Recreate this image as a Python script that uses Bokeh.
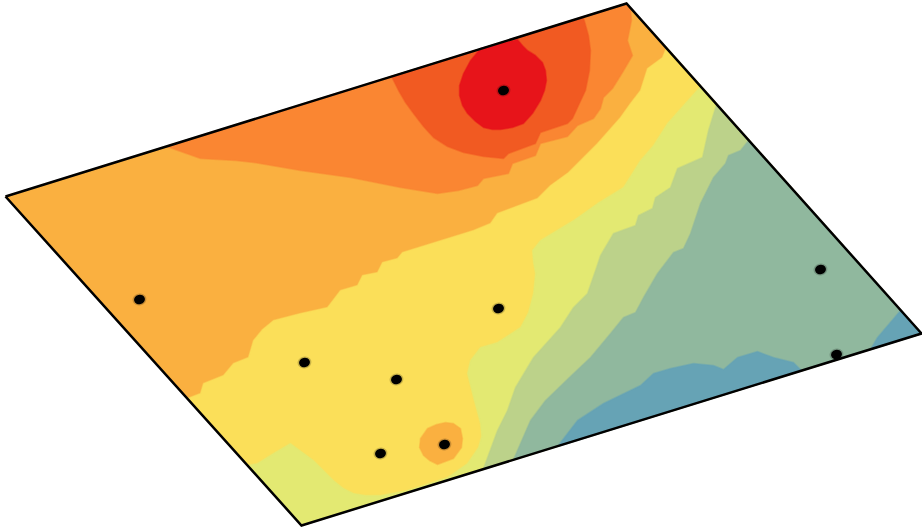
from bokeh.plotting import figure
from bokeh.embed import file_html
from bokeh.resources import INLINE

# Map outline (corners of the tilted sheet)
frame_x = [5, 626, 921, 301, 5]
frame_y = [196, 3, 333, 525, 196]

# Filled contour bands, painted from the back to the front
band_colors = ["#FAB040", "#FA8632", "#F15A22", "#E7141A", "#FBDF59", "#E3E972",
               "#BCD28A", "#90B89E", "#66A3B5", "#66A3B5", "#FAB040"]

base_x = [5, 626, 921, 301]
base_y = [196, 3, 333, 525]

orange_x = [166, 183, 200, 217, 235, 253, 300, 350, 400, 437, 458, 477, 483, 508, 512, 535, 540, 567, 577, 593, 600, 603, 612, 622, 632, 627, 631, 630, 626]
orange_y = [146, 152, 158, 159, 160, 162, 170, 177, 187, 193, 190, 185, 178, 173, 163, 155, 143, 136, 125, 118, 108, 97, 88, 72, 55, 40, 20, 8, 3]

dark_x = [391, 398, 405, 413, 423, 433, 447, 463, 483, 503, 508, 535, 540, 567, 572, 578, 585, 589, 590, 588, 583]
dark_y = [76, 90, 102, 113, 126, 137, 146, 152, 156, 158, 153, 143, 132, 123, 118, 105, 90, 70, 50, 35, 17]

red_x = [480, 470, 463, 459, 459, 462, 467, 475, 483, 492, 500, 512, 523, 532, 540, 544, 546, 545, 542, 535, 527, 522, 517]
red_y = [48, 60, 73, 85, 95, 105, 113, 121, 127, 129, 129, 127, 123, 113, 100, 90, 80, 70, 62, 55, 50, 45, 39]

yellow_x = [187, 200, 203, 223, 233, 248, 253, 262, 273, 300, 327, 340, 357, 362, 377, 382, 397, 402, 473, 490, 497, 537, 550, 568, 597, 620, 630, 640, 647, 662, 666, 921, 301]
yellow_y = [398, 393, 383, 375, 363, 357, 340, 329, 320, 313, 307, 290, 285, 275, 272, 262, 258, 252, 230, 223, 213, 198, 185, 172, 143, 117, 103, 90, 68, 57, 47, 333, 525]

lime_x = [700, 683, 667, 653, 640, 623, 597, 573, 540, 532, 533, 535, 533, 528, 520, 497, 480, 470, 467, 473, 480, 481, 478, 467, 447, 407, 380, 365, 353, 343, 333, 313, 290, 273, 257, 247, 301, 921]
lime_y = [86, 105, 123, 145, 160, 187, 203, 220, 240, 250, 262, 273, 293, 312, 327, 342, 347, 360, 373, 397, 423, 436, 447, 463, 477, 490, 495, 495, 493, 488, 480, 460, 443, 453, 463, 465, 525, 333]

khaki_x = [716, 708, 702, 677, 670, 655, 652, 638, 635, 613, 600, 595, 587, 573, 560, 533, 515, 507, 497, 483, 921]
khaki_y = [104, 130, 157, 168, 187, 197, 208, 215, 225, 233, 255, 270, 293, 307, 327, 357, 387, 410, 430, 468, 333]

teal_x = [748, 740, 728, 725, 713, 700, 690, 683, 673, 657, 643, 635, 623, 610, 590, 573, 545, 530, 513, 921]
teal_y = [140, 150, 155, 163, 177, 203, 233, 248, 252, 273, 297, 312, 317, 333, 357, 373, 400, 420, 459, 333]

blue_x = [557, 577, 603, 640, 653, 670, 693, 713, 723, 737, 757, 773, 793, 801]
blue_y = [446, 420, 403, 385, 373, 368, 363, 365, 369, 357, 351, 357, 362, 370]

corner_x = [870, 877, 900, 921]
corner_y = [349, 337, 310, 333]

spot_x = [445, 453, 460, 462, 461, 453, 445, 437, 429, 423, 419, 420, 427, 436]
spot_y = [422, 423, 428, 438, 447, 458, 461, 464, 460, 455, 447, 438, 428, 424]

# Sample stations
site_x = [139, 304, 396, 498, 503, 820, 836, 380, 444]
site_y = [299, 362, 379, 308, 90, 269, 354, 453, 444]

bands_x = [base_x, orange_x, dark_x, red_x, yellow_x, lime_x, khaki_x, teal_x, blue_x, corner_x, spot_x]
bands_y = [base_y, orange_y, dark_y, red_y, yellow_y, lime_y, khaki_y, teal_y, blue_y, corner_y, spot_y]

p = figure(width=922, height=527, x_range=(0, 922), y_range=(527, 0),
           output_backend="svg", toolbar_location=None, min_border=0)
p.styles = {"position": "fixed", "left": "0px", "top": "0px"}
p.axis.visible = False
p.grid.visible = False
p.outline_line_color = None
p.background_fill_color = "white"

p.patches(bands_x, bands_y, fill_color=band_colors, line_color=band_colors,
          line_alpha=0.5, line_width=1.5)
p.ellipse(site_x, site_y, width=14, height=12, angle=0.25, color="black", alpha=0.2, line_color=None)
p.ellipse(site_x, site_y, width=11, height=9.5, angle=0.25, color="black", line_color=None)
p.line(frame_x, frame_y, line_color="black", line_width=2.5, line_join="miter")

open("out.html", "w").write(file_html(p, INLINE))
